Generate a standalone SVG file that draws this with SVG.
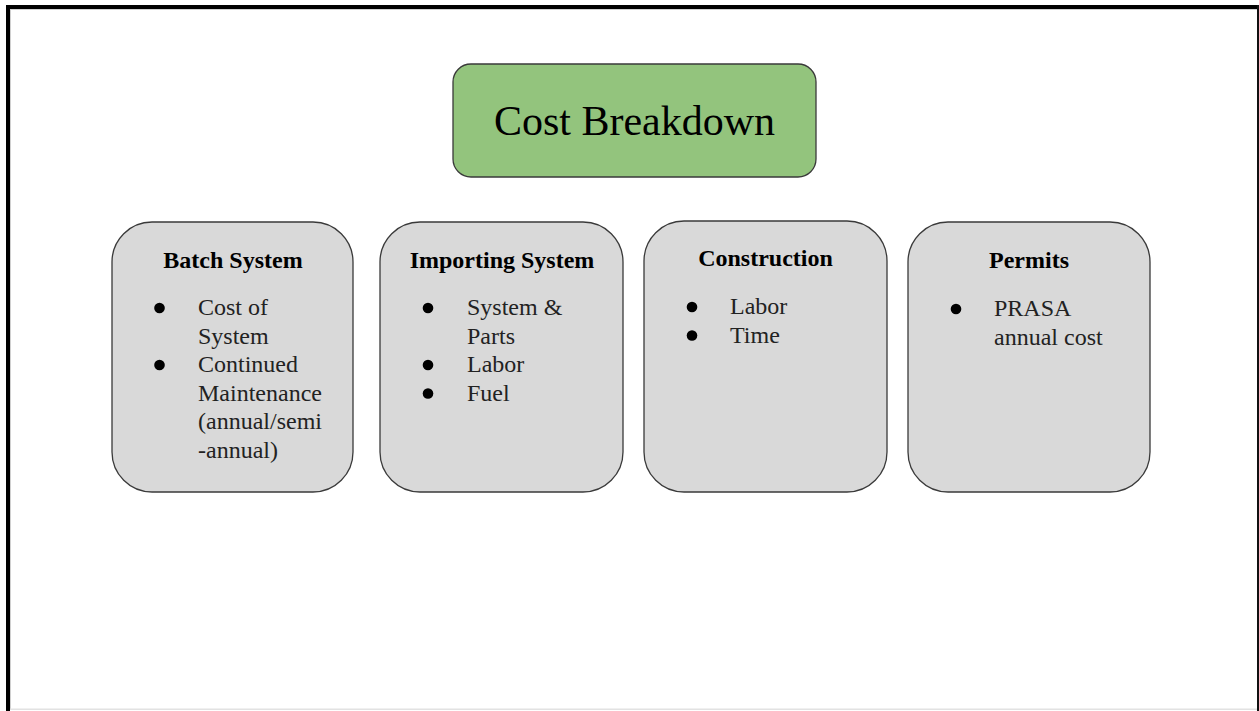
<svg xmlns="http://www.w3.org/2000/svg" width="1259" height="711" viewBox="0 0 1259 711">
<style>
.box{fill:#d9d9d9;stroke:#3a3a3a;stroke-width:1.3}
.main{fill:#93c47d;stroke:#3a3a3a;stroke-width:1.3}
.t{font-family:"Liberation Serif","Times New Roman",serif;fill:#000}
.h{font-size:24px;font-weight:bold;text-anchor:middle}
.b{font-size:24px;fill:#222}
.dot{fill:#000}
</style>
<rect x="0" y="0" width="1259" height="711" fill="#ffffff"/>
<g id="frame">
<rect x="10" y="9" width="1247" height="1" fill="#d0d0d0"/>
<rect x="10" y="9" width="1" height="700" fill="#d0d0d0"/>
<rect x="10" y="708.5" width="1247" height="1.5" fill="#e2e2e2"/>
<rect x="6" y="5" width="1253" height="4" fill="#000"/>
<rect x="6" y="5" width="4" height="706" fill="#000"/>
<rect x="1257" y="5" width="2" height="706" fill="#111"/>
</g>
<g id="connectors"></g>
<g id="cost-breakdown">
<rect class="main" x="453" y="64" width="363" height="113" rx="18"/>
<text class="t" x="634.5" y="135" font-size="42" text-anchor="middle">Cost Breakdown</text>
</g>
<g id="batch-system">
<rect class="box" x="112" y="222" width="241" height="270" rx="40"/>
<text class="t h" x="233" y="268">Batch System</text>
<circle class="dot" cx="159.5" cy="308" r="5.3"/>
<circle class="dot" cx="159.5" cy="365" r="5.3"/>
<text class="t b" x="198" y="315">Cost of</text>
<text class="t b" x="198" y="343.5">System</text>
<text class="t b" x="198" y="372">Continued</text>
<text class="t b" x="198" y="400.5">Maintenance</text>
<text class="t b" x="198" y="429">(annual/semi</text>
<text class="t b" x="198" y="457.5">-annual)</text>
</g>
<g id="importing-system">
<rect class="box" x="380" y="222" width="243" height="270" rx="40"/>
<text class="t h" x="502" y="268">Importing System</text>
<circle class="dot" cx="428" cy="308" r="5.3"/>
<circle class="dot" cx="428" cy="365" r="5.3"/>
<circle class="dot" cx="428" cy="393.5" r="5.3"/>
<text class="t b" x="467" y="315">System &amp;</text>
<text class="t b" x="467" y="343.5">Parts</text>
<text class="t b" x="467" y="372">Labor</text>
<text class="t b" x="467" y="400.5">Fuel</text>
</g>
<g id="construction">
<rect class="box" x="644" y="221" width="243" height="271" rx="40"/>
<text class="t h" x="765.5" y="266">Construction</text>
<circle class="dot" cx="692" cy="307" r="5.3"/>
<circle class="dot" cx="692" cy="335.5" r="5.3"/>
<text class="t b" x="730" y="314">Labor</text>
<text class="t b" x="730" y="342.5">Time</text>
</g>
<g id="permits">
<rect class="box" x="908" y="222" width="242" height="270" rx="40"/>
<text class="t h" x="1029" y="268">Permits</text>
<circle class="dot" cx="956" cy="309" r="5.3"/>
<text class="t b" x="994" y="316">PRASA</text>
<text class="t b" x="994" y="344.5">annual cost</text>
</g>
</svg>
